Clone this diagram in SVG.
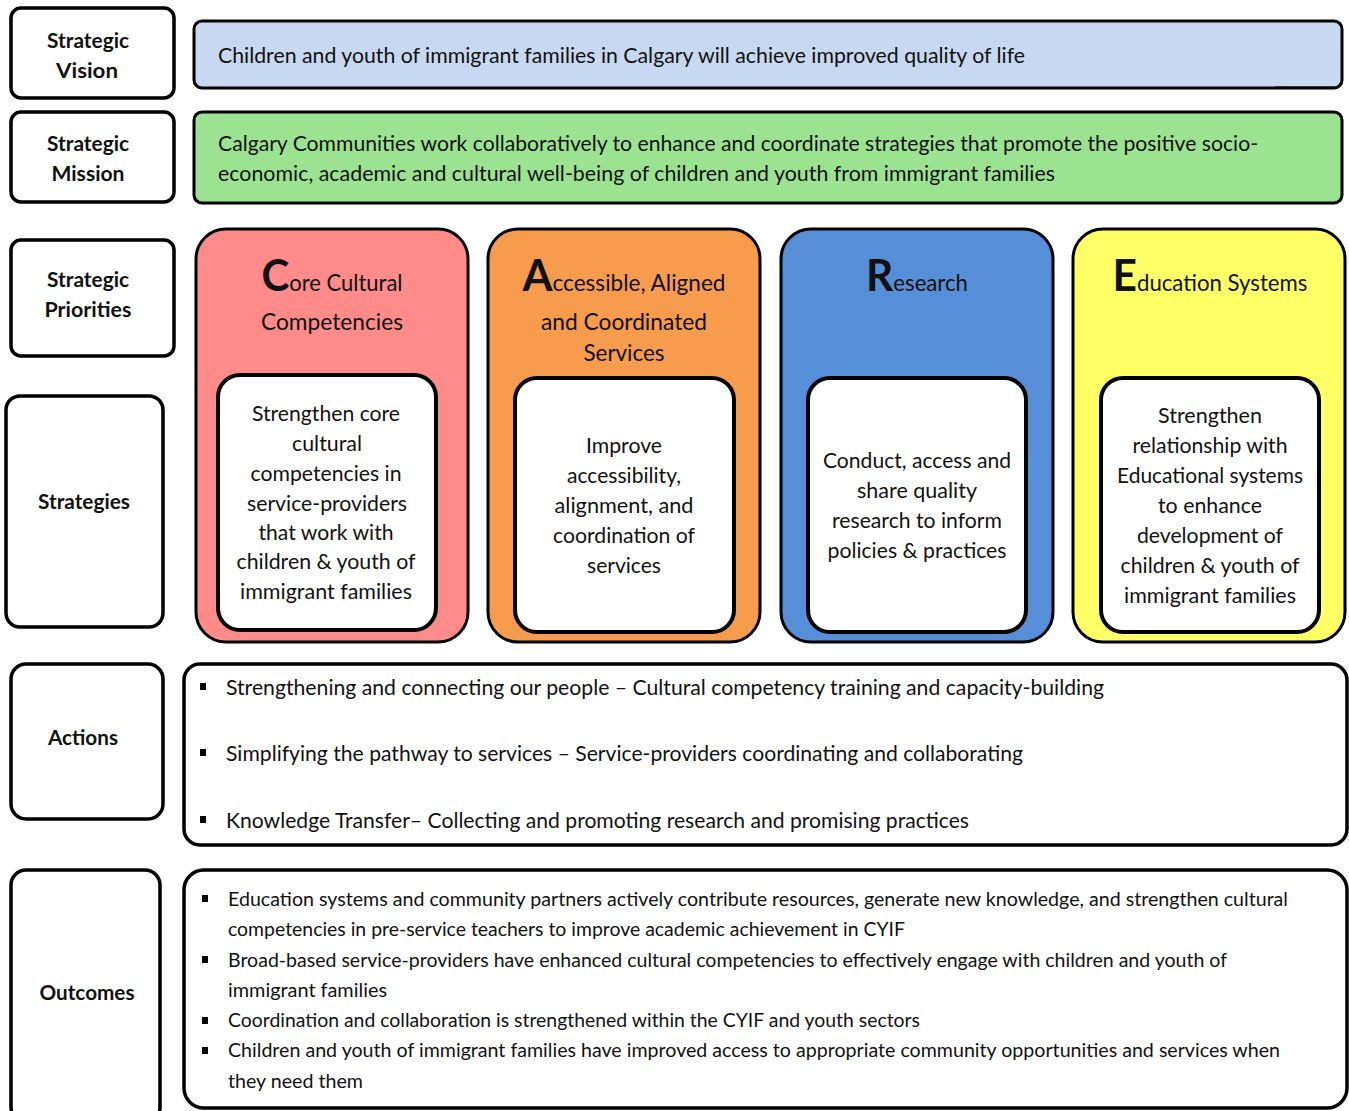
<svg xmlns="http://www.w3.org/2000/svg" width="1349" height="1111" viewBox="0 0 1349 1111">
  <style>
    text { font-family: Lato, "Open Sans", "Liberation Sans", sans-serif; fill: #111; }
    .lbl { font-weight: bold; font-size: 21.5px; text-anchor: middle; }
    .body { font-size: 21px; }
    .mid { text-anchor: middle; }
    .hdr { font-size: 23px; text-anchor: middle; }
    .cap { font-size: 44px; font-weight: bold; }
    .small { font-size: 19.5px; }
    .box { fill: #fff; stroke: #000; stroke-width: 3.5; }
    .col { stroke: #000; stroke-width: 3; }
    .inner { fill: #fff; stroke: #000; stroke-width: 4; }
    .bul { fill: #000; }
  </style>

  <!-- row labels -->
  <g id="label-vision">
    <rect class="box" x="11" y="8" width="163" height="90" rx="10"/>
    <text class="lbl" x="88" y="48" textLength="82" lengthAdjust="spacingAndGlyphs">Strategic</text>
    <text class="lbl" x="87" y="78" textLength="62" lengthAdjust="spacingAndGlyphs">Vision</text>
  </g>
  <g id="label-mission">
    <rect class="box" x="11" y="112" width="163" height="90" rx="10"/>
    <text class="lbl" x="88" y="151" textLength="82" lengthAdjust="spacingAndGlyphs">Strategic</text>
    <text class="lbl" x="88" y="181" textLength="73" lengthAdjust="spacingAndGlyphs">Mission</text>
  </g>
  <g id="label-priorities">
    <rect class="box" x="11" y="240" width="163" height="116" rx="10"/>
    <text class="lbl" x="88" y="287" textLength="82" lengthAdjust="spacingAndGlyphs">Strategic</text>
    <text class="lbl" x="88" y="317" textLength="87" lengthAdjust="spacingAndGlyphs">Priorities</text>
  </g>
  <g id="label-strategies">
    <rect class="box" x="6" y="396" width="157" height="231" rx="14"/>
    <text class="lbl" x="84" y="509" textLength="92" lengthAdjust="spacingAndGlyphs">Strategies</text>
  </g>
  <g id="label-actions">
    <rect class="box" x="11" y="664" width="152" height="155" rx="15"/>
    <text class="lbl" x="83" y="745" textLength="70" lengthAdjust="spacingAndGlyphs">Actions</text>
  </g>
  <g id="label-outcomes">
    <rect class="box" x="11" y="870" width="149" height="252" rx="15"/>
    <text class="lbl" x="87" y="1000" textLength="95" lengthAdjust="spacingAndGlyphs">Outcomes</text>
  </g>

  <!-- vision and mission bars -->
  <g id="vision">
    <rect x="194" y="21" width="1148" height="67" rx="8" fill="#c6d9f1" stroke="#000" stroke-width="3"/>
    <line x1="1275" y1="87.5" x2="1334" y2="87.5" stroke="#000" stroke-width="2"/>
    <text class="body" x="218" y="63" textLength="807" lengthAdjust="spacingAndGlyphs">Children and youth of immigrant families in Calgary will achieve improved quality of life</text>
  </g>
  <g id="mission">
    <rect x="194" y="112" width="1148" height="91" rx="8" fill="#9be390" stroke="#000" stroke-width="3"/>
    <text class="body" x="218" y="151" textLength="1040" lengthAdjust="spacingAndGlyphs">Calgary Communities work collaboratively to enhance and coordinate strategies that promote the positive socio-</text>
    <text class="body" x="218" y="181" textLength="837" lengthAdjust="spacingAndGlyphs">economic, academic and cultural well-being of children and youth from immigrant families</text>
  </g>

  <!-- priority columns -->
  <g id="priority-core">
    <rect class="col" x="196" y="229" width="272" height="413" rx="30" fill="#ff8b8b"/>
    <text class="hdr" x="332" y="291" textLength="141" lengthAdjust="spacingAndGlyphs"><tspan class="cap">C</tspan>ore Cultural</text>
    <text class="hdr" x="332" y="330" textLength="142" lengthAdjust="spacingAndGlyphs">Competencies</text>
    <rect class="inner" x="218" y="375" width="218" height="255" rx="22"/>
    <g class="body mid">
      <text x="326" y="421" textLength="148" lengthAdjust="spacingAndGlyphs">Strengthen core</text>
      <text x="327" y="451" textLength="70" lengthAdjust="spacingAndGlyphs">cultural</text>
      <text x="326" y="481" textLength="151" lengthAdjust="spacingAndGlyphs">competencies in</text>
      <text x="327" y="511" textLength="160" lengthAdjust="spacingAndGlyphs">service-providers</text>
      <text x="326" y="540" textLength="135" lengthAdjust="spacingAndGlyphs">that work with</text>
      <text x="326" y="569" textLength="179" lengthAdjust="spacingAndGlyphs">children &amp; youth of</text>
      <text x="326" y="599" textLength="172" lengthAdjust="spacingAndGlyphs">immigrant families</text>
    </g>
  </g>
  <g id="priority-accessible">
    <rect class="col" x="488" y="229" width="272" height="413" rx="30" fill="#f79b4c"/>
    <text class="hdr" x="624" y="291" textLength="203" lengthAdjust="spacingAndGlyphs"><tspan class="cap">A</tspan>ccessible, Aligned</text>
    <text class="hdr" x="624" y="330" textLength="166" lengthAdjust="spacingAndGlyphs">and Coordinated</text>
    <text class="hdr" x="624" y="361" textLength="81" lengthAdjust="spacingAndGlyphs">Services</text>
    <rect class="inner" x="515" y="378" width="219" height="254" rx="22"/>
    <g class="body mid">
      <text x="624" y="453" textLength="76" lengthAdjust="spacingAndGlyphs">Improve</text>
      <text x="624" y="483" textLength="114" lengthAdjust="spacingAndGlyphs">accessibility,</text>
      <text x="624" y="513" textLength="139" lengthAdjust="spacingAndGlyphs">alignment, and</text>
      <text x="624" y="543" textLength="142" lengthAdjust="spacingAndGlyphs">coordination of</text>
      <text x="624" y="573" textLength="74" lengthAdjust="spacingAndGlyphs">services</text>
    </g>
  </g>
  <g id="priority-research">
    <rect class="col" x="781" y="229" width="272" height="413" rx="30" fill="#568ed7"/>
    <text class="hdr" x="917" y="291" textLength="102" lengthAdjust="spacingAndGlyphs"><tspan class="cap">R</tspan>esearch</text>
    <rect class="inner" x="808" y="378" width="218" height="254" rx="22"/>
    <g class="body mid">
      <text x="917" y="468" textLength="188" lengthAdjust="spacingAndGlyphs">Conduct, access and</text>
      <text x="917" y="498" textLength="120" lengthAdjust="spacingAndGlyphs">share quality</text>
      <text x="917" y="528" textLength="170" lengthAdjust="spacingAndGlyphs">research to inform</text>
      <text x="917" y="558" textLength="179" lengthAdjust="spacingAndGlyphs">policies &amp; practices</text>
    </g>
  </g>
  <g id="priority-education">
    <rect class="col" x="1073" y="229" width="272" height="413" rx="30" fill="#ffff66"/>
    <text class="hdr" x="1210" y="291" textLength="195" lengthAdjust="spacingAndGlyphs"><tspan class="cap">E</tspan>ducation Systems</text>
    <rect class="inner" x="1101" y="378" width="218" height="254" rx="22"/>
    <g class="body mid">
      <text x="1210" y="423" textLength="104" lengthAdjust="spacingAndGlyphs">Strengthen</text>
      <text x="1210" y="453" textLength="155" lengthAdjust="spacingAndGlyphs">relationship with</text>
      <text x="1210" y="483" textLength="186" lengthAdjust="spacingAndGlyphs">Educational systems</text>
      <text x="1210" y="513" textLength="104" lengthAdjust="spacingAndGlyphs">to enhance</text>
      <text x="1210" y="543" textLength="146" lengthAdjust="spacingAndGlyphs">development of</text>
      <text x="1210" y="573" textLength="179" lengthAdjust="spacingAndGlyphs">children &amp; youth of</text>
      <text x="1210" y="603" textLength="172" lengthAdjust="spacingAndGlyphs">immigrant families</text>
    </g>
  </g>

  <!-- actions list -->
  <g id="actions">
    <rect class="box" x="184" y="664" width="1163" height="181" rx="16"/>
    <rect class="bul" x="200" y="683" width="6" height="7"/>
    <rect class="bul" x="200" y="749" width="6" height="7"/>
    <rect class="bul" x="200" y="816" width="6" height="7"/>
    <text class="body" x="226" y="695" textLength="878" lengthAdjust="spacingAndGlyphs">Strengthening and connecting our people – Cultural competency training and capacity-building</text>
    <text class="body" x="226" y="761" textLength="797" lengthAdjust="spacingAndGlyphs">Simplifying the pathway to services – Service-providers coordinating and collaborating</text>
    <text class="body" x="226" y="828" textLength="743" lengthAdjust="spacingAndGlyphs">Knowledge Transfer– Collecting and promoting research and promising practices</text>
  </g>

  <!-- outcomes list -->
  <g id="outcomes">
    <rect class="box" x="184" y="870" width="1163" height="238" rx="20"/>
    <rect class="bul" x="202" y="895" width="6" height="7"/>
    <rect class="bul" x="202" y="956" width="6" height="7"/>
    <rect class="bul" x="202" y="1017" width="6" height="7"/>
    <rect class="bul" x="202" y="1047" width="6" height="7"/>
    <g class="small">
      <text x="228" y="906" textLength="1060" lengthAdjust="spacingAndGlyphs">Education systems and community partners actively contribute resources, generate new knowledge, and strengthen cultural</text>
      <text x="228" y="936" textLength="677" lengthAdjust="spacingAndGlyphs">competencies in pre-service teachers to improve academic achievement in CYIF</text>
      <text x="228" y="967" textLength="999" lengthAdjust="spacingAndGlyphs">Broad-based service-providers have enhanced cultural competencies to effectively engage with children and youth of</text>
      <text x="228" y="997" textLength="159" lengthAdjust="spacingAndGlyphs">immigrant families</text>
      <text x="228" y="1027" textLength="692" lengthAdjust="spacingAndGlyphs">Coordination and collaboration is strengthened within the CYIF and youth sectors</text>
      <text x="228" y="1057" textLength="1052" lengthAdjust="spacingAndGlyphs">Children and youth of immigrant families have improved access to appropriate community opportunities and services when</text>
      <text x="228" y="1088" textLength="135" lengthAdjust="spacingAndGlyphs">they need them</text>
    </g>
  </g>
</svg>
